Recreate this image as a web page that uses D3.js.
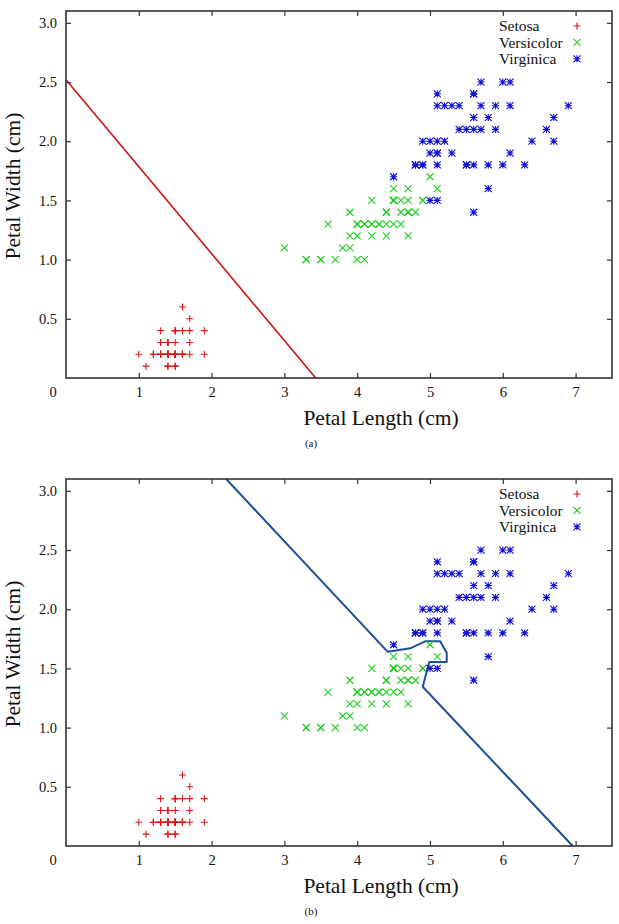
<!DOCTYPE html>
<html>
<head>
<meta charset="utf-8">
<script src="https://cdn.jsdelivr.net/npm/d3@7"></script>
<style>
  body { margin: 0; background: #fff; }
</style>
</head>
<body>
<div id="chart"></div>
<script>
"use strict";

// iris petal measurements, [length, width] in cm
const setosa = [
  [1.4,0.2],[1.4,0.2],[1.3,0.2],[1.5,0.2],[1.4,0.2],[1.7,0.4],[1.4,0.3],[1.5,0.2],[1.4,0.2],[1.5,0.1],
  [1.5,0.2],[1.6,0.2],[1.4,0.1],[1.1,0.1],[1.2,0.2],[1.5,0.4],[1.3,0.4],[1.4,0.3],[1.7,0.3],[1.5,0.3],
  [1.7,0.2],[1.5,0.4],[1.0,0.2],[1.7,0.5],[1.9,0.2],[1.6,0.2],[1.6,0.4],[1.5,0.2],[1.4,0.2],[1.6,0.2],
  [1.6,0.2],[1.5,0.4],[1.5,0.1],[1.4,0.2],[1.5,0.2],[1.2,0.2],[1.3,0.2],[1.4,0.1],[1.3,0.2],[1.5,0.2],
  [1.3,0.3],[1.3,0.3],[1.3,0.2],[1.6,0.6],[1.9,0.4],[1.4,0.3],[1.6,0.2],[1.4,0.2],[1.5,0.2],[1.4,0.2]
];
const versicolor = [
  [4.7,1.4],[4.5,1.5],[4.9,1.5],[4.0,1.3],[4.6,1.5],[4.5,1.3],[4.7,1.6],[3.3,1.0],[4.6,1.3],[3.9,1.4],
  [3.5,1.0],[4.2,1.5],[4.0,1.0],[4.7,1.4],[3.6,1.3],[4.4,1.4],[4.5,1.5],[4.1,1.0],[4.5,1.5],[3.9,1.1],
  [4.8,1.8],[4.0,1.3],[4.9,1.5],[4.7,1.2],[4.3,1.3],[4.4,1.4],[4.8,1.4],[5.0,1.7],[4.5,1.5],[3.5,1.0],
  [3.8,1.1],[3.7,1.0],[3.9,1.2],[5.1,1.6],[4.5,1.5],[4.5,1.6],[4.7,1.5],[4.4,1.3],[4.1,1.3],[4.0,1.3],
  [4.4,1.2],[4.6,1.4],[4.0,1.2],[3.3,1.0],[4.2,1.3],[4.2,1.2],[4.2,1.3],[4.3,1.3],[3.0,1.1],[4.1,1.3]
];
const virginica = [
  [6.0,2.5],[5.1,1.9],[5.9,2.1],[5.6,1.8],[5.8,2.2],[6.6,2.1],[4.5,1.7],[6.3,1.8],[5.8,1.8],[6.1,2.5],
  [5.1,2.0],[5.3,1.9],[5.5,2.1],[5.0,2.0],[5.1,2.4],[5.3,2.3],[5.5,1.8],[6.7,2.2],[6.9,2.3],[5.0,1.5],
  [5.7,2.3],[4.9,2.0],[6.7,2.0],[4.9,1.8],[5.7,2.1],[6.0,1.8],[4.8,1.8],[4.9,1.8],[5.6,2.1],[5.8,1.6],
  [6.1,1.9],[6.4,2.0],[5.6,2.2],[5.1,1.5],[5.6,1.4],[6.1,2.3],[5.6,2.4],[5.5,1.8],[4.8,1.8],[5.4,2.1],
  [5.6,2.4],[5.1,2.3],[5.1,1.9],[5.9,2.3],[5.7,2.5],[5.2,2.3],[5.0,1.9],[5.2,2.0],[5.4,2.3],[5.1,1.8]
];

// decision boundaries
const boundaryA = [[0, 2.52], [3.43, 0]];
const boundaryB = [
  [2.2,3.1],[4.42,1.64],[4.73,1.67],[4.94,1.73],[5.14,1.73],[5.23,1.63],
  [5.23,1.555],[4.99,1.555],[4.90,1.345],[6.96,0]
];

const xTicks = [1, 2, 3, 4, 5, 6, 7];
const yTicks = [0.5, 1.0, 1.5, 2.0, 2.5, 3.0];
const classNames = ["Setosa", "Versicolor", "Virginica"];
const panelLabels = ["(a)", "(b)"];

const svgWidth = 619;
const svgHeight = 924;
const panelOffset = 468;
const plotLeft = 66, plotRight = 612, plotTop = 11, plotBottom = 378;
const colors = ["#e01818", "#22cc22", "#1010d8"];
const serif = "'Liberation Serif', 'Times New Roman', Times, serif";

const svg = d3.select("#chart")
  .append("svg")
  .attr("width", svgWidth)
  .attr("height", svgHeight)
;

const xScale = d3.scaleLinear().domain([0, 7.5]).range([plotLeft, plotRight]);
const yScale = d3.scaleLinear().domain([0, 3.1]).range([plotBottom, plotTop]);

// gnuplot-ish point shapes: 0 plus, 1 cross, 2 star
function marker(g, kind, cx, cy, color) {
  const s = 3.5;
  const p = d3.path();
  if (kind !== 1) {
    p.moveTo(cx - s, cy); p.lineTo(cx + s, cy);
    p.moveTo(cx, cy - s); p.lineTo(cx, cy + s);
  }
  if (kind !== 0) {
    p.moveTo(cx - s, cy - s); p.lineTo(cx + s, cy + s);
    p.moveTo(cx - s, cy + s); p.lineTo(cx + s, cy - s);
  }
  g.append("path")
    .attr("d", p.toString())
    .attr("stroke", color)
    .attr("stroke-width", 1.1)
    .attr("fill", "none");
}

function drawPanel(index, boundary, lineColor, lineWidth) {
  const g = svg.append("g").attr("transform", `translate(0, ${index * panelOffset})`);

  // inward ticks on all four sides
  g.append("g")
    .attr("transform", `translate(0, ${plotBottom})`)
    .call(d3.axisBottom(xScale).tickValues(xTicks).tickSizeInner(-5).tickSizeOuter(0).tickPadding(9))
    .call(a => a.select(".domain").remove())
    .call(a => a.selectAll("text").attr("font-size", 14.5))
  ;
  g.append("g")
    .attr("transform", `translate(0, ${plotTop})`)
    .call(d3.axisTop(xScale).tickValues(xTicks).tickSizeInner(-5).tickSizeOuter(0).tickFormat(""))
    .call(a => a.select(".domain").remove())
  ;
  g.append("g")
    .attr("transform", `translate(${plotLeft}, 0)`)
    .call(d3.axisLeft(yScale).tickValues(yTicks).tickSizeInner(-5).tickSizeOuter(0).tickPadding(9).tickFormat(d3.format(".1f")))
    .call(a => a.select(".domain").remove())
    .call(a => a.selectAll("text").attr("font-size", 14.5))
  ;
  g.append("g")
    .attr("transform", `translate(${plotRight}, 0)`)
    .call(d3.axisRight(yScale).tickValues(yTicks).tickSizeInner(-5).tickSizeOuter(0).tickFormat(""))
    .call(a => a.select(".domain").remove())
  ;
  g.selectAll(".tick line").attr("stroke", "#333").attr("stroke-width", 1.2);

  g.append("text")
    .attr("x", xScale(0) - 13)
    .attr("y", plotBottom + 19)
    .attr("text-anchor", "middle")
    .attr("font-size", 14.5)
    .text("0");

  const line = d3.line().x(d => xScale(d[0])).y(d => yScale(d[1]));
  g.append("path")
    .datum(boundary)
    .attr("d", line)
    .attr("fill", "none")
    .attr("stroke", lineColor)
    .attr("stroke-width", lineWidth)
    .attr("stroke-linejoin", "round");

  [setosa, versicolor, virginica].forEach((series, k) => {
    const sg = g.append("g");
    series.forEach(d => marker(sg, k, xScale(d[0]), yScale(d[1]), colors[k]));
  });

  // legend
  classNames.forEach((name, k) => {
    const ly = 26 + k * 16.4;
    g.append("text")
      .attr("x", 499)
      .attr("y", ly)
      .attr("dy", "0.35em")
      .attr("font-size", 15.5)
      .text(name);
    marker(g, k, 577, ly, colors[k]);
  });

  g.append("rect")
    .attr("x", plotLeft).attr("y", plotTop)
    .attr("width", plotRight - plotLeft).attr("height", plotBottom - plotTop)
    .attr("fill", "none")
    .attr("stroke", "#333")
    .attr("stroke-width", 1.6);

  g.append("text")
    .attr("x", 381)
    .attr("y", 425)
    .attr("text-anchor", "middle")
    .attr("font-size", 21.5)
    .text("Petal Length (cm)");

  g.append("text")
    .attr("transform", `translate(20, ${186}) rotate(-90)`)
    .attr("text-anchor", "middle")
    .attr("font-size", 21.5)
    .text("Petal Width (cm)");

  g.append("text")
    .attr("x", 311)
    .attr("y", 447)
    .attr("text-anchor", "middle")
    .attr("font-size", 11)
    .text(panelLabels[index]);
}

drawPanel(0, boundaryA, "#c81414", 1.6);
drawPanel(1, boundaryB, "#1c4f9a", 2);

svg.selectAll("text")
  .style("font-family", serif)
  .attr("fill", "#111");
</script>
</body>
</html>
